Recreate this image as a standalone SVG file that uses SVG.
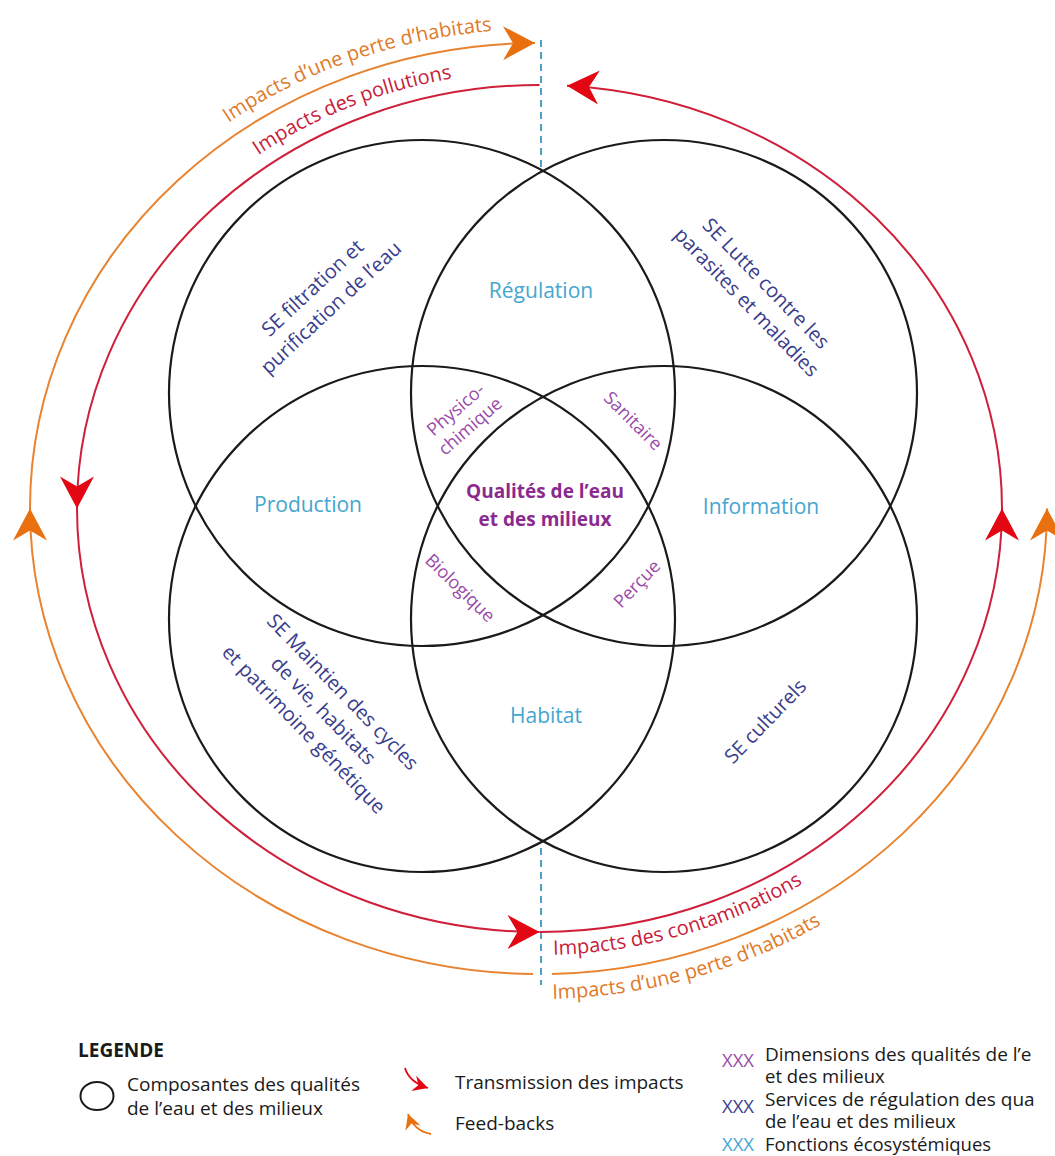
<svg xmlns="http://www.w3.org/2000/svg" width="1055" height="1156" viewBox="0 0 1055 1156">
<style>
text{font-family:"Open Sans","Noto Sans","Liberation Sans",sans-serif;font-size:19px}
.c{fill:none;stroke:#1a1a1a;stroke-width:2.2}
.fn{fill:#45a6cf}
.lab{font-size:21px}
.se{fill:#3a3d8c}
.sel{font-size:20px}
.dim{fill:#9a4aa8}
.pet{font-size:18px}
.ctr{fill:#8a2a8f;font-weight:bold}
.red{fill:none;stroke:#cf1f3a;stroke-width:2}
.org{fill:none;stroke:#e8832f;stroke-width:2}
.rt{fill:#c8203a;font-size:20px}
.ot{fill:#e07a2a;font-size:20px}
.dash{stroke:#4f9fc4;stroke-width:2;stroke-dasharray:7 5}
.lg{fill:#1a1a1a}
.lr{font-size:18.5px}
</style>
<defs>
<marker id="mr" viewBox="-33 -18 34 36" markerWidth="34" markerHeight="36" refX="0" refY="0" orient="auto" markerUnits="userSpaceOnUse"><path d="M0,0 L-32,-17 L-22,0 L-32,17 Z" fill="#e30613"/></marker>
<marker id="mo" viewBox="-33 -18 34 36" markerWidth="34" markerHeight="36" refX="0" refY="0" orient="auto" markerUnits="userSpaceOnUse"><path d="M0,0 L-32,-17 L-22,0 L-32,17 Z" fill="#e8700f"/></marker>
<marker id="smr" viewBox="-16 -9 17 18" markerWidth="17" markerHeight="18" refX="0" refY="0" orient="auto" markerUnits="userSpaceOnUse"><path d="M0,0 L-15,-8 L-10,0 L-15,8 Z" fill="#e30613"/></marker>
<marker id="smo" viewBox="-16 -9 17 18" markerWidth="17" markerHeight="18" refX="0" refY="0" orient="auto" markerUnits="userSpaceOnUse"><path d="M0,0 L-15,-8 L-10,0 L-15,8 Z" fill="#e8700f"/></marker>
<path id="tpO" d="M16 508.5 A522.5 479.5 0 0 1 492 31"/>
<path id="tpR" d="M63 508.5 A476.5 437.5 0 0 1 452 78.4"/>
<path id="bpR" d="M539.5 955 A485.5 446.5 0 0 0 1025 508.5"/>
<path id="bpO" d="M538.5 999 A533.5 490.5 0 0 0 1072 508.5"/>
</defs>

<g id="connectors">
<line class="dash" x1="541" y1="40" x2="541" y2="170"/>
<line class="dash" x1="541" y1="848" x2="541" y2="985"/>
<path class="red" d="M539.5 85 A462.5 423.5 0 0 0 77 508.5 A462.5 423.5 0 0 0 539.5 932" marker-mid="url(#mr)" marker-end="url(#mr)"/>
<path class="red" d="M539.5 932 A462.5 423.5 0 0 0 1002 508.5 A462.5 423.5 0 0 0 567 85.75" marker-mid="url(#mr)" marker-end="url(#mr)"/>
<path class="org" d="M533 974 A508.5 465.5 0 0 1 30 508.5 A508.5 465.5 0 0 1 535 43" marker-mid="url(#mo)" marker-end="url(#mo)"/>
<path class="org" d="M552 974 A508.5 465.5 0 0 0 1047 508.5" marker-end="url(#mo)"/>
<text class="ot"><textPath href="#tpO" startOffset="100%" text-anchor="end">Impacts d’une perte d’habitats</textPath></text>
<text class="rt"><textPath href="#tpR" startOffset="100%" text-anchor="end">Impacts des pollutions</textPath></text>
<text class="rt"><textPath href="#bpR" startOffset="14">Impacts des contaminations</textPath></text>
<text class="ot"><textPath href="#bpO" startOffset="14">Impacts d’une perte d’habitats</textPath></text>
</g>

<g id="circle-tl"><circle class="c" cx="422" cy="393" r="253"/>
<text class="se sel" transform="translate(322 298) rotate(-43)" text-anchor="middle"><tspan x="0" y="-7">SE filtration et</tspan><tspan x="0" y="20">purification de l’eau</tspan></text></g>
<g id="circle-tr"><circle class="c" cx="664" cy="393" r="253"/>
<text class="se sel" transform="translate(756 293) rotate(46)" text-anchor="middle"><tspan x="0" y="-7">SE Lutte contre les</tspan><tspan x="0" y="20">parasites et maladies</tspan></text></g>
<g id="circle-bl"><circle class="c" cx="422" cy="619" r="253"/>
<text class="se sel" transform="translate(322 712) rotate(46)" text-anchor="middle"><tspan x="0" y="-22">SE Maintien des cycles</tspan><tspan x="0" y="5">de vie, habitats</tspan><tspan x="0" y="32">et patrimoine génétique</tspan></text></g>
<g id="circle-br"><circle class="c" cx="664" cy="619" r="253"/>
<text class="se sel" transform="translate(766 722) rotate(-46)" text-anchor="middle" y="6">SE culturels</text></g>

<g id="fn-regulation"><text class="fn lab" x="541" y="298" text-anchor="middle">Régulation</text></g>
<g id="fn-production"><text class="fn lab" x="308" y="512" text-anchor="middle">Production</text></g>
<g id="fn-information"><text class="fn lab" x="761" y="514" text-anchor="middle">Information</text></g>
<g id="fn-habitat"><text class="fn lab" x="546" y="723" text-anchor="middle">Habitat</text></g>

<g id="dim-physico"><text class="dim pet" transform="translate(463 418) rotate(-41)" text-anchor="middle"><tspan x="0" y="-5">Physico-</tspan><tspan x="0" y="17">chimique</tspan></text></g>
<g id="dim-sanitaire"><text class="dim pet" transform="translate(633 421) rotate(45)" text-anchor="middle" y="6">Sanitaire</text></g>
<g id="dim-biologique"><text class="dim pet" transform="translate(460 588) rotate(44)" text-anchor="middle" y="6">Biologique</text></g>
<g id="dim-percue"><text class="dim pet" transform="translate(637 584) rotate(-46)" text-anchor="middle" y="6">Perçue</text></g>

<g id="center"><text class="ctr" x="545" y="498" text-anchor="middle">Qualités de l’eau</text><text class="ctr" x="545" y="526" text-anchor="middle">et des milieux</text></g>

<g id="legend">
<text class="lg" x="78" y="1057" font-weight="bold" font-size="18">LEGENDE</text>
<ellipse cx="97" cy="1096" rx="16.5" ry="14" fill="none" stroke="#1a1a1a" stroke-width="2"/>
<text class="lg" x="127" y="1091">Composantes des qualités</text>
<text class="lg" x="127" y="1115">de l’eau et des milieux</text>
<path d="M405 1068 Q409 1082 428 1088" fill="none" stroke="#e30613" stroke-width="1.8" marker-end="url(#smr)"/>
<path d="M431 1134 Q414 1131 408 1114" fill="none" stroke="#e8700f" stroke-width="1.8" marker-end="url(#smo)"/>
<text class="lg" x="455" y="1089">Transmission des impacts</text>
<text class="lg" x="455" y="1130">Feed-backs</text>
<text class="dim lr" x="722" y="1067">XXX</text>
<text class="lg" x="765" y="1061" font-size="19.5">Dimensions des qualités de l’e</text>
<text class="lg lr" x="765" y="1083">et des milieux</text>
<text class="se lr" x="722" y="1113">XXX</text>
<text class="lg" x="765" y="1106" font-size="19.5">Services de régulation des qua</text>
<text class="lg lr" x="765" y="1128">de l’eau et des milieux</text>
<text class="fn lr" x="722" y="1151">XXX</text>
<text class="lg lr" x="765" y="1151">Fonctions écosystémiques</text>
</g>
</svg>
